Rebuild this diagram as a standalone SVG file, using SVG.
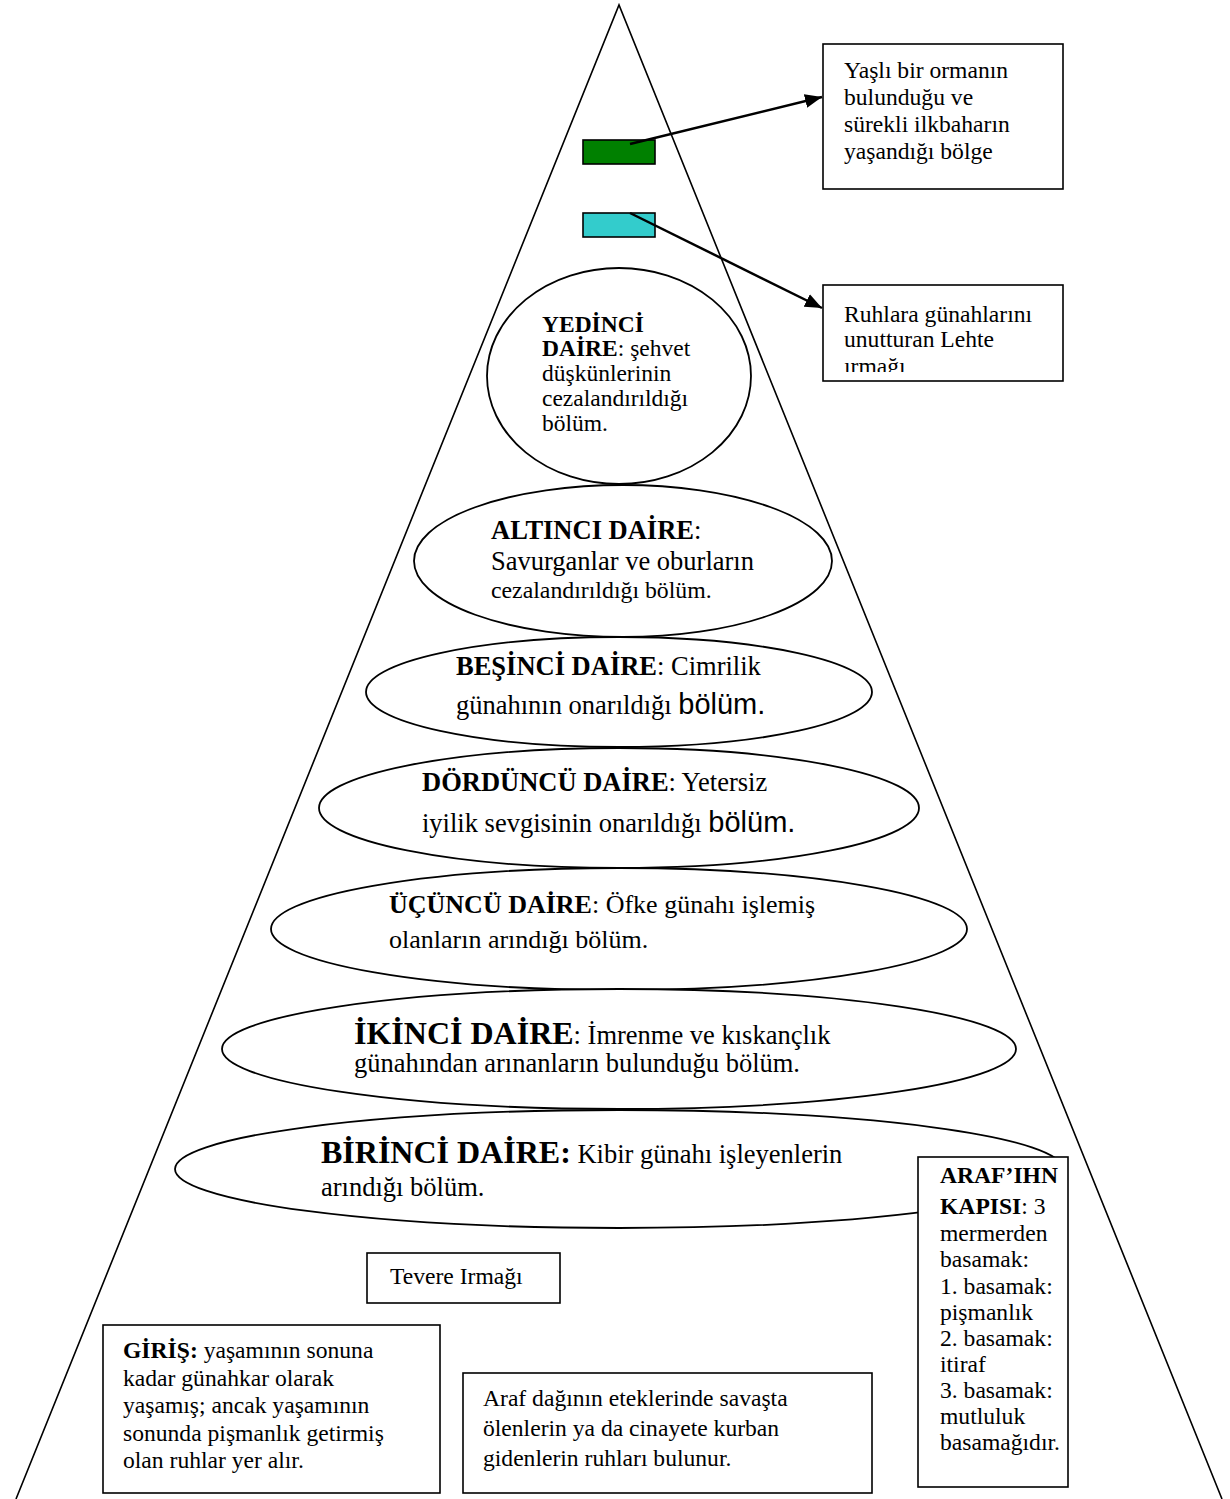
<svg xmlns="http://www.w3.org/2000/svg" width="1230" height="1499" viewBox="0 0 1230 1499">
<style>
.t{font-family:"Liberation Serif","Times New Roman",serif;fill:#000;}
.b{font-weight:bold;}
.s{font-family:"Liberation Sans",Arial,sans-serif;}
.el{fill:#fff;stroke:#000;stroke-width:1.8;}
.bx{fill:#fff;stroke:#000;stroke-width:1.6;}
.con{stroke:#000;stroke-width:2.5;fill:none;}
</style>
<defs>
<marker id="ah" markerUnits="userSpaceOnUse" markerWidth="18" markerHeight="14" refX="17" refY="7" orient="auto">
<path d="M0,0 L17,7 L0,14 z" fill="#000"/>
</marker>
<clipPath id="c2"><rect x="823" y="285" width="240" height="87"/></clipPath>
</defs>
<rect width="1230" height="1499" fill="#fff"/>

<g id="mountain">
<polyline points="16,1499 619,5 1222,1499" fill="none" stroke="#000" stroke-width="1.6"/>
</g>

<g id="forest-marker"><rect x="583" y="140" width="72" height="24" fill="#008000" stroke="#000" stroke-width="1.6"/></g>
<g id="lethe-marker"><rect x="583" y="213" width="72" height="24" fill="#33CCCC" stroke="#000" stroke-width="1.6"/></g>

<g id="box-forest">
<rect class="bx" x="823" y="44" width="240" height="145"/>
<text class="t" font-size="23.6"><tspan x="844" y="78">Yaşlı bir ormanın</tspan><tspan x="844" y="105">bulunduğu ve</tspan><tspan x="844" y="132">sürekli ilkbaharın</tspan><tspan x="844" y="159">yaşandığı bölge</tspan></text>
</g>

<g id="box-lethe">
<rect class="bx" x="823" y="285" width="240" height="96"/>
<g clip-path="url(#c2)">
<text class="t" font-size="23.6"><tspan x="844" y="322">Ruhlara günahlarını</tspan><tspan x="844" y="347">unutturan Lehte</tspan><tspan x="844" y="374">ırmağı</tspan></text>
</g>
</g>

<g id="daire7">
<ellipse class="el" cx="619" cy="376" rx="132" ry="108"/>
<text class="t" font-size="23.5"><tspan x="542" y="332" class="b">YEDİNCİ</tspan><tspan x="542" y="356" class="b">DAİRE</tspan><tspan>: şehvet</tspan><tspan x="542" y="381">düşkünlerinin</tspan><tspan x="542" y="406">cezalandırıldığı</tspan><tspan x="542" y="431">bölüm.</tspan></text>
</g>

<g id="daire6">
<ellipse class="el" cx="623" cy="561" rx="209" ry="76"/>
<text class="t" font-size="26.5"><tspan x="491" y="539" class="b">ALTINCI DAİRE</tspan><tspan>:</tspan><tspan x="491" y="570">Savurganlar ve oburların</tspan><tspan x="491" y="598" font-size="23.8">cezalandırıldığı bölüm.</tspan></text>
</g>

<g id="daire5">
<ellipse class="el" cx="619" cy="692" rx="253" ry="55"/>
<text class="t" font-size="26.5"><tspan x="456" y="675" class="b">BEŞİNCİ DAİRE</tspan><tspan>: Cimrilik</tspan><tspan x="456" y="714">günahının onarıldığı </tspan><tspan class="s" font-size="29">bölüm.</tspan></text>
</g>

<g id="daire4">
<ellipse class="el" cx="619" cy="808" rx="300" ry="60"/>
<text class="t" font-size="26.5"><tspan x="422" y="791" class="b">DÖRDÜNCÜ DAİRE</tspan><tspan>: Yetersiz</tspan><tspan x="422" y="832">iyilik sevgisinin onarıldığı </tspan><tspan class="s" font-size="29">bölüm.</tspan></text>
</g>

<g id="daire3">
<ellipse class="el" cx="619" cy="929" rx="348" ry="61"/>
<text class="t" font-size="26"><tspan x="389" y="913" class="b">ÜÇÜNCÜ DAİRE</tspan><tspan>: Öfke günahı işlemiş</tspan><tspan x="389" y="948">olanların arındığı bölüm.</tspan></text>
</g>

<g id="daire2">
<ellipse class="el" cx="619" cy="1049" rx="397" ry="60"/>
<text class="t" font-size="26.5"><tspan x="354" y="1044" class="b" font-size="32">İKİNCİ DAİRE</tspan><tspan>: İmrenme ve kıskançlık</tspan><tspan x="354" y="1072">günahından arınanların bulunduğu bölüm.</tspan></text>
</g>

<g id="daire1">
<ellipse class="el" cx="619" cy="1169" rx="444" ry="59"/>
<text class="t" font-size="26.5"><tspan x="321" y="1163" class="b" font-size="32">BİRİNCİ DAİRE:</tspan><tspan> Kibir günahı işleyenlerin</tspan><tspan x="321" y="1196">arındığı bölüm.</tspan></text>
</g>

<g id="box-kapi">
<rect class="bx" x="918" y="1157" width="150" height="330"/>
<text class="t" font-size="23.6"><tspan x="940" y="1183" class="b">ARAF’IHN</tspan><tspan x="940" y="1214" class="b">KAPISI</tspan><tspan>: 3</tspan><tspan x="940" y="1241">mermerden</tspan><tspan x="940" y="1267">basamak:</tspan><tspan x="940" y="1294">1. basamak:</tspan><tspan x="940" y="1320">pişmanlık</tspan><tspan x="940" y="1346">2. basamak:</tspan><tspan x="940" y="1372">itiraf</tspan><tspan x="940" y="1398">3. basamak:</tspan><tspan x="940" y="1424">mutluluk</tspan><tspan x="940" y="1450">basamağıdır.</tspan></text>
</g>

<g id="box-tevere">
<rect class="bx" x="367" y="1253" width="193" height="50"/>
<text class="t" font-size="23.6" x="390" y="1284">Tevere Irmağı</text>
</g>

<g id="box-giris">
<rect class="bx" x="103" y="1325" width="337" height="168"/>
<text class="t" font-size="23.6"><tspan x="123" y="1358" class="b">GİRİŞ:</tspan><tspan> yaşamının sonuna</tspan><tspan x="123" y="1386">kadar günahkar olarak</tspan><tspan x="123" y="1413">yaşamış; ancak yaşamının</tspan><tspan x="123" y="1441">sonunda pişmanlık getirmiş</tspan><tspan x="123" y="1468">olan ruhlar yer alır.</tspan></text>
</g>

<g id="box-etekler">
<rect class="bx" x="463" y="1373" width="409" height="120"/>
<text class="t" font-size="23.6"><tspan x="483" y="1406">Araf dağının eteklerinde savaşta</tspan><tspan x="483" y="1436">ölenlerin ya da cinayete kurban</tspan><tspan x="483" y="1466">gidenlerin ruhları bulunur.</tspan></text>
</g>

<g id="connectors">
<line class="con" x1="630" y1="144" x2="822" y2="97" marker-end="url(#ah)"/>
<line class="con" x1="630" y1="213" x2="822" y2="308" marker-end="url(#ah)"/>
</g>
</svg>
